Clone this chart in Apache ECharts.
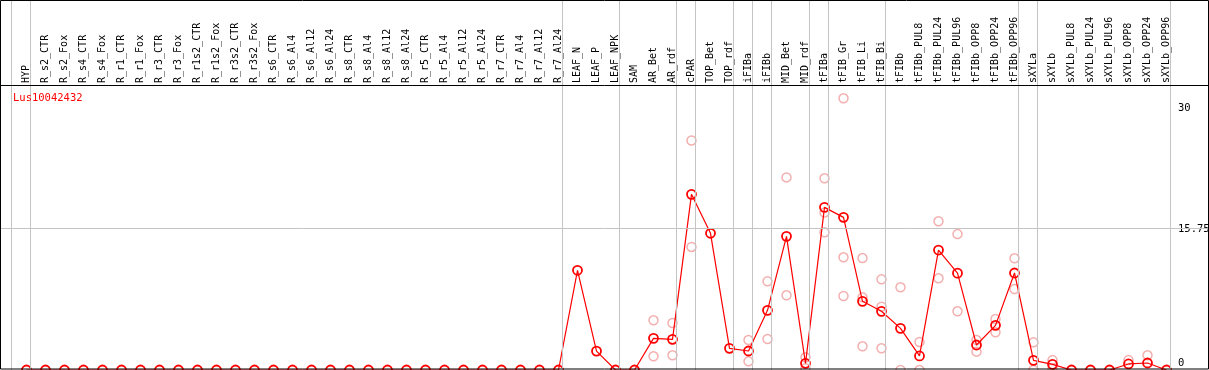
<!DOCTYPE html>
<html>
<head>
<meta charset="utf-8">
<style>html,body{margin:0;padding:0;background:#fff;}#chart{width:1209px;height:370px;}</style>
<script src="https://cdn.jsdelivr.net/npm/echarts@6/dist/echarts.min.js"></script>
</head>
<body>
<div id="chart"></div>
<script>
var geneName = 'Lus10042432';
var categories = ['HYP','R_s2_CTR','R_s2_Fox','R_s4_CTR','R_s4_Fox','R_r1_CTR','R_r1_Fox','R_r3_CTR','R_r3_Fox','R_r1s2_CTR','R_r1s2_Fox','R_r3s2_CTR','R_r3s2_Fox','R_s6_CTR','R_s6_Al4','R_s6_Al12','R_s6_Al24','R_s8_CTR','R_s8_Al4','R_s8_Al12','R_s8_Al24','R_r5_CTR','R_r5_Al4','R_r5_Al12','R_r5_Al24','R_r7_CTR','R_r7_Al4','R_r7_Al12','R_r7_Al24','LEAF_N','LEAF_P','LEAF_NPK','SAM','AR_Bet','AR_rdf','cPAR','TOP_Bet','TOP_rdf','iFIBa','iFIBb','MID_Bet','MID_rdf','tFIBa','tFIB_Gr','tFIB_Li','tFIB_Bi','tFIBb','tFIBb_PUL8','tFIBb_PUL24','tFIBb_PUL96','tFIBb_OPP8','tFIBb_OPP24','tFIBb_OPP96','sXYLa','sXYLb','sXYLb_PUL8','sXYLb_PUL24','sXYLb_PUL96','sXYLb_OPP8','sXYLb_OPP24','sXYLb_OPP96'];
var meanValues = [0,0,0,0,0,0,0,0,0,0,0,0,0,0,0,0,0,0,0,0,0,0,0,0,0,0,0,0,0,
  11.08,2.1,0,0,3.52,3.41,19.52,15.19,2.41,2.11,6.63,14.85,0.74,18.07,16.96,7.63,6.52,4.63,1.56,13.33,10.76,2.78,4.96,10.78,1.07,0.63,0,0,0,0.67,0.78,0];
var rep1 = [null,null,null,null,null,null,null,null,null,null,null,null,null,null,null,null,null,null,null,null,null,null,null,null,null,null,null,null,null,
  null,null,null,null,5.52,5.22,25.5,null,null,3.33,9.85,21.4,1.41,21.3,30.19,12.44,10.07,9.19,3.11,16.52,15.1,3.33,5.67,12.41,3.07,1.1,null,null,null,1.1,1.63,null];
var rep2 = [null,null,null,null,null,null,null,null,null,null,null,null,null,null,null,null,null,null,null,null,null,null,null,null,null,null,null,null,null,
  null,null,null,null,1.52,1.63,13.67,null,null,0.96,3.44,8.3,0.2,17.5,12.52,8.07,7.04,0,0,10.19,6.52,2.04,4.19,9.0,0,0.2,null,null,null,null,null,null];
var rep3 = [null,null,null,null,null,null,null,null,null,null,null,null,null,null,null,null,null,null,null,null,null,null,null,null,null,null,null,null,null,
  null,null,null,null,null,null,null,null,null,null,null,null,null,15.3,8.22,2.63,2.41,null,null,null,null,null,null,null,null,null,null,null,null,null,null,null];
var yTickLabels = [0, 15.75, 30];
var gridLineValue = 15.75;
// index of the last category of each group (group separators)
var groupEnds = [-1, 0, 28, 31, 34, 35, 37, 38, 39, 41, 42, 45, 52, 53, 60];

var idx = categories.map(function (c, i) { return i; });
var meanData = meanValues.map(function (v, i) { return [i, v]; });
var repData = [];
[rep1, rep2, rep3].forEach(function (arr) {
  arr.forEach(function (v, i) { if (v !== null) repData.push([i, v]); });
});

var mono = 'DejaVu Sans Mono';
var headerValue = (370 - 85.5) / 9;
var chart = echarts.init(document.getElementById('chart'), null, {renderer: 'canvas'});
chart.setOption({
  animation: false,
  backgroundColor: '#fff',
  title: {
    text: geneName, left: 8, top: 88,
    textStyle: {color: '#ff0000', fontSize: 10.5, fontWeight: 'normal', fontFamily: mono}
  },
  grid: {left: 0, right: 0, top: 0, bottom: 0, containLabel: false, outerBoundsMode: 'none'},
  xAxis: {
    type: 'value', position: 'top', offset: -85,
    min: -26.5 / 19, max: (1209 - 26.5) / 19,
    axisLine: {show: false},
    axisTick: {show: false},
    splitLine: {show: false},
    axisLabel: {
      customValues: idx, rotate: 90, margin: 2, hideOverlap: false,
      color: '#000', fontSize: 10, fontFamily: mono,
      formatter: function (v) { return categories[Math.round(v)]; }
    }
  },
  yAxis: [{
    type: 'value', min: 0, max: 370 / 9, show: false, splitLine: {show: false}
  }, {
    type: 'value', position: 'right', min: -0.812, max: 42.72,
    axisLine: {show: false, onZero: false}, axisTick: {show: false}, splitLine: {show: false},
    axisLabel: {
      customValues: yTickLabels, inside: true, margin: 31, align: 'left',
      color: '#000', fontSize: 10.5, fontFamily: mono
    }
  }],
  graphic: [{
    type: 'rect', z: 100, silent: true,
    shape: {x: 0.5, y: 0.5, width: 1208, height: 368.5},
    style: {fill: 'none', stroke: '#000', lineWidth: 1}
  }],
  series: [{
    type: 'scatter', name: 'replicates', z: 1,
    data: repData,
    symbol: 'circle', symbolSize: 9,
    itemStyle: {color: 'rgba(255,255,255,0)', borderColor: '#f09c9c', borderWidth: 1.5},
    markLine: {
      silent: true, symbol: 'none', label: {show: false},
      data: groupEnds.map(function (k) {
        return {xAxis: k + 0.22, lineStyle: {color: '#c4c4c4', width: 1, type: 'solid'}};
      }).concat([
        {yAxis: gridLineValue, lineStyle: {color: '#c4c4c4', width: 1, type: 'solid'}},
        {yAxis: headerValue, lineStyle: {color: '#000', width: 1, type: 'solid'}}
      ])
    }
  }, {
    type: 'line', name: 'mean', z: 3,
    data: meanData,
    symbol: 'circle', symbolSize: 9,
    lineStyle: {color: '#ff0000', width: 1.2},
    itemStyle: {color: 'rgba(255,255,255,0)', borderColor: '#ff0000', borderWidth: 1.8}
  }]
});
</script>
</body>
</html>
